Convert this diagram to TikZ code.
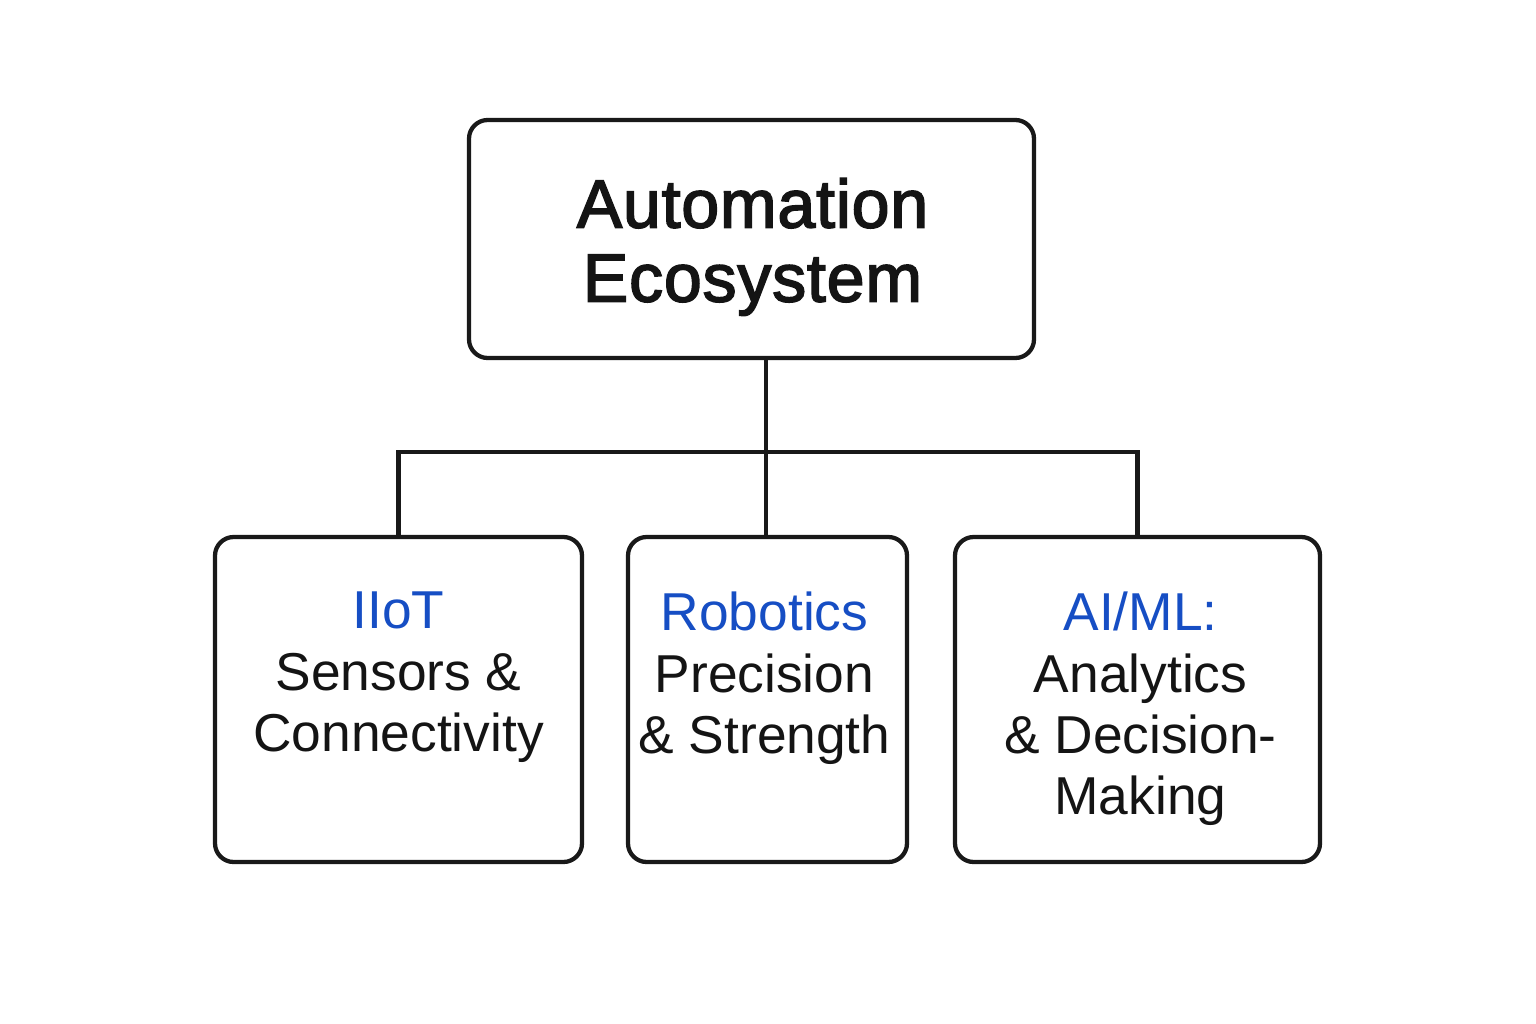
\documentclass[tikz,border=0pt]{standalone}
\usepackage{fontspec}
\setmainfont{Liberation Sans}
\usetikzlibrary{calc}
\definecolor{hdblue}{RGB}{22,78,196}
\begin{document}
\begin{tikzpicture}[x=0.75pt,y=-0.75pt,
  box/.style={draw=black!90, line width=3.2pt, rounded corners=14pt, inner sep=0pt, outer sep=0pt},
  conn/.style={draw=black!90, line width=3.2pt, line join=miter},
  titletxt/.style={anchor=north, inner sep=0pt, align=center, text=black!92,
    font={\fontspec{Liberation Sans}[FakeBold=2.4,LetterSpace=1.2]\fontsize{51}{55.5}\selectfont}},
  childtxt/.style={anchor=north, inner sep=0pt, align=center, text=black!92,
    font=\fontsize{40}{46}\selectfont},
  hd/.style={text=hdblue}]
\useasboundingbox (0,0) rectangle (1536,1024);
\fill[white] (0,0) rectangle (1536,1024);

\node[box, minimum width=423.75pt, minimum height=178.5pt] (top) at (751.5,239) {};
\node[box, minimum width=275.25pt, minimum height=243.75pt] (c1) at (398.5,699.5) {};
\node[box, minimum width=209.25pt, minimum height=243.75pt] (c2) at (767.5,699.5) {};
\node[box, minimum width=273.75pt, minimum height=243.75pt] (c3) at (1137.5,699.5) {};

\coordinate (bus) at (766,452);
\draw[conn] (top.south -| bus) -- (c2.north -| bus);
\draw[conn] (c1.north) |- (bus) -| (c3.north);

\node[titletxt] (ttitle) at ($(top.north)+(1,58)$) {Automation\\Ecosystem};
\node[childtxt] (t1) at ($(c1.north)+(0,55)$) {\textcolor{hdblue}{IIoT}\\Sensors \&\\Connectivity};
\node[childtxt] (t2) at ($(c2.north)+(-3,55)$) {\textcolor{hdblue}{Robotics}\\Precision\\\& Strength};
\node[childtxt] (t3) at ($(c3.north)+(3,55)$) {\textcolor{hdblue}{AI/ML:}\\Analytics\\\& Decision-\\Making};
\end{tikzpicture}
\end{document}
